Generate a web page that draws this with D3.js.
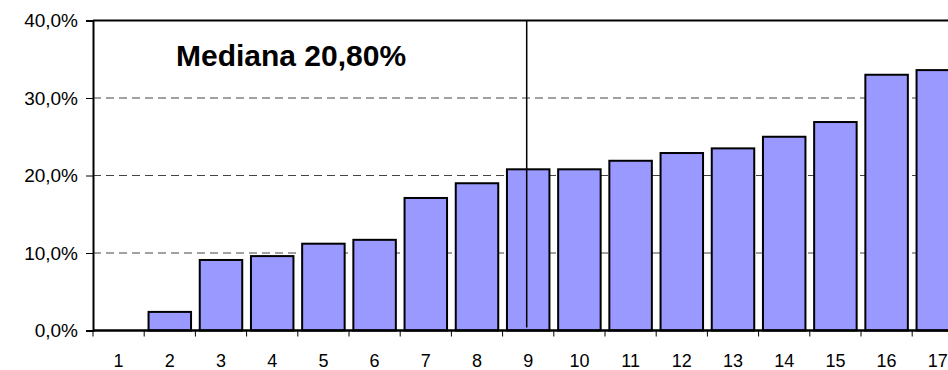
<!DOCTYPE html>
<html>
<head>
<meta charset="utf-8">
<script src="https://cdn.jsdelivr.net/npm/d3@7"></script>
<style>
  body { margin: 0; background: #fff; }
  svg { display: block; font-family: "Liberation Sans", Arial, sans-serif; }
</style>
</head>
<body>
<div id="chart"></div>
<script>
// data
var categories = ["1","2","3","4","5","6","7","8","9","10","11","12","13","14","15","16","17"];
var values = [0, 2.4, 9.1, 9.6, 11.2, 11.7, 17.1, 19.0, 20.8, 20.8, 21.9, 22.9, 23.5, 25.0, 26.9, 33.0, 33.6];
var yTicks = [0, 10, 20, 30, 40];
var medianCategory = "9";
var medianLabel = "Mediana 20,80%";

var width = 948, height = 370;
var margin = {top: 20, left: 93, bottom: 40};
var band = 51.2;

var svg = d3.select("#chart").append("svg")
  .attr("width", width)
  .attr("height", height);

var x = d3.scaleBand()
  .domain(categories)
  .range([margin.left, margin.left + band * categories.length])
  .paddingInner(0.17)
  .paddingOuter(0.085);

var y = d3.scaleLinear()
  .domain([0, 40])
  .range([330.5, 20.5]);

var plotRight = margin.left + band * categories.length;

var barData = categories.map(function(c, i){ return {cat: c, value: values[i]}; });

// gridlines (dashed)
svg.append("g").selectAll("line")
  .data(yTicks.filter(function(d){ return d > 0 && d < 40; }))
  .enter().append("line")
  .attr("x1", margin.left)
  .attr("x2", plotRight)
  .attr("y1", function(d){ return y(d); })
  .attr("y2", function(d){ return y(d); })
  .attr("stroke", "#444")
  .attr("stroke-width", 1)
  .attr("stroke-dasharray", "8,5");

// bars
svg.append("g").selectAll("rect")
  .data(barData.filter(function(d){ return d.value > 0; }))
  .enter().append("rect")
  .attr("x", function(d){ return x(d.cat); })
  .attr("width", x.bandwidth())
  .attr("y", function(d){ return y(d.value); })
  .attr("height", function(d){ return y(0) - y(d.value); })
  .attr("fill", "#9999ff")
  .attr("stroke", "#000")
  .attr("stroke-width", 2);

// plot frame: top line
svg.append("line")
  .attr("x1", margin.left).attr("x2", plotRight)
  .attr("y1", y(40)).attr("y2", y(40))
  .attr("stroke", "#000").attr("stroke-width", 2);

// y axis
var yAxis = d3.axisLeft(y)
  .tickValues(yTicks)
  .tickSize(7)
  .tickPadding(8)
  .tickFormat(function(d){ return d3.format(".1f")(d).replace(".", ",") + "%"; });

var gy = svg.append("g")
  .attr("transform", "translate(" + margin.left + ",0)")
  .call(yAxis);
gy.select(".domain").attr("stroke", "#000").attr("stroke-width", 2);
gy.selectAll(".tick line").attr("stroke", "#000").attr("stroke-width", 1);
gy.selectAll(".tick text")
  .attr("font-size", 19)
  .attr("font-family", "'Liberation Sans', Arial, sans-serif")
  .attr("fill", "#000");

// x axis: ticks at band boundaries, labels at band centres
var gx = svg.append("g");
gx.append("line")
  .attr("x1", margin.left).attr("x2", plotRight)
  .attr("y1", y(0)).attr("y2", y(0))
  .attr("stroke", "#000").attr("stroke-width", 2.5);

var step = x.step();
gx.selectAll(".xt")
  .data(categories)
  .enter().append("line")
  .attr("class", "xt")
  .attr("x1", function(d){ return x(d) - step * x.paddingInner() / 2; })
  .attr("x2", function(d){ return x(d) - step * x.paddingInner() / 2; })
  .attr("y1", y(0))
  .attr("y2", y(0) + 6)
  .attr("stroke", "#000");

gx.selectAll(".xl")
  .data(categories)
  .enter().append("text")
  .attr("class", "xl")
  .attr("x", function(d){ return x(d) + x.bandwidth() / 2; })
  .attr("y", 367)
  .attr("text-anchor", "middle")
  .attr("font-size", 18)
  .text(function(d){ return d; });

// median line
var mx = x(medianCategory) + x.bandwidth() / 2 - 1.5;
svg.append("line")
  .attr("x1", mx).attr("x2", mx)
  .attr("y1", y(40)).attr("y2", y(0) - 3)
  .attr("stroke", "#000")
  .attr("stroke-width", 1.5);

svg.append("text")
  .attr("x", 176)
  .attr("y", 66)
  .attr("font-size", 30)
  .attr("font-weight", "bold")
  .text(medianLabel);
</script>
</body>
</html>
